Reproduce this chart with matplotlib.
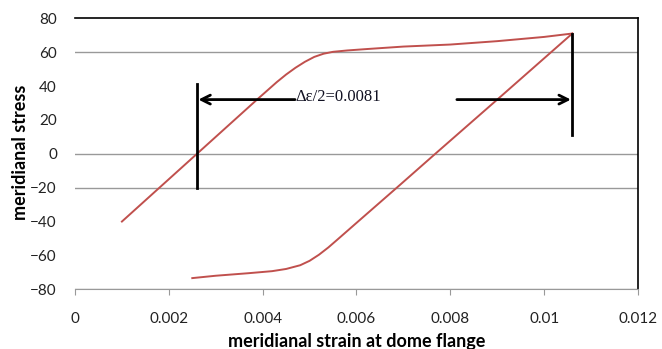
import matplotlib
matplotlib.use('Agg')
import matplotlib.pyplot as plt

# loading branch (from lower-left up to the peak)
load_strain = [0.0010, 0.0018, 0.0026, 0.0034, 0.0039, 0.0043, 0.0045, 0.0047,
               0.0049, 0.0051, 0.0053, 0.0055, 0.0058, 0.0062, 0.0070, 0.0080,
               0.0090, 0.0100, 0.0106]
load_stress = [-40, -20, 0, 20, 32.5, 42.3, 46.8, 50.8, 54.3, 57.2, 59.1, 60.2,
               61.0, 61.8, 63.3, 64.5, 66.5, 69, 71]

# unloading branch (from the peak down to lower-left)
unload_strain = [0.0106, 0.0090, 0.00768, 0.00686, 0.0060, 0.0056, 0.0054, 0.0052,
                 0.0050, 0.0048, 0.0045, 0.0042, 0.0037, 0.0030, 0.0025]
unload_stress = [71, 32, 0, -20, -40.8, -50.5, -55.3, -59.6, -63.2, -65.8, -68,
                 -69.3, -70.5, -72, -73.4]

# annotation values
left_mark = 0.0026
right_mark = 0.0106
left_span = (41, -20)
right_span = (71, 11)
arrow_y = 32
left_arrow_tail = 0.00469
right_arrow_tail = 0.00814
label = 'Δε/2=0.0081'

grid_levels = [60, 0, -20, -80]
xticks = [0, 0.002, 0.004, 0.006, 0.008, 0.01, 0.012]
xticklabels = ['0', '0.002', '0.004', '0.006', '0.008', '0.01', '0.012']
yticks = [-80, -60, -40, -20, 0, 20, 40, 60, 80]

plt.rcParams['font.family'] = ['Lato', 'DejaVu Sans']

fig = plt.figure(figsize=(6.62, 3.49), dpi=100)
ax = fig.add_axes([0.1133, 0.1711, 0.8504, 0.7765])

for lvl in grid_levels:
    ax.axhline(lvl, color='#999999', lw=1.0, zorder=1)

ax.plot(load_strain, load_stress, color='#C0504D', lw=1.4, zorder=3)
ax.plot(unload_strain, unload_stress, color='#C0504D', lw=1.4, zorder=3)

ax.plot([left_mark, left_mark], left_span, color='black', lw=2, zorder=4)
ax.plot([right_mark, right_mark], right_span, color='black', lw=2, zorder=4)
ax.annotate('', xy=(left_mark, arrow_y), xytext=(left_arrow_tail, arrow_y),
            arrowprops=dict(arrowstyle='->', lw=2, color='black', mutation_scale=16,
                            shrinkA=0, shrinkB=1))
ax.annotate('', xy=(right_mark, arrow_y), xytext=(right_arrow_tail, arrow_y),
            arrowprops=dict(arrowstyle='->', lw=2, color='black', mutation_scale=16,
                            shrinkA=0, shrinkB=1))
ax.text(left_arrow_tail, arrow_y + 1.5, label, family='Liberation Serif', fontsize=12,
        va='center', ha='left', color='#111122')

ax.set_xlim(0, 0.012)
ax.set_ylim(-80, 80)
ax.set_xticks(xticks)
ax.set_xticklabels(xticklabels)
ax.set_yticks(yticks)
ax.tick_params(axis='y', length=0, pad=13, labelsize=11, labelcolor='#222222')
ax.tick_params(axis='x', length=4, color='#999999', pad=12, labelsize=11, labelcolor='#222222')

ax.spines['left'].set_visible(False)
ax.spines['bottom'].set_color('#999999')
ax.spines['top'].set_color('black')
ax.spines['right'].set_color('black')
ax.spines['top'].set_linewidth(1.2)
ax.spines['right'].set_linewidth(1.2)

fig.text(0.539, 0.021, 'meridianal strain at dome flange', ha='center', va='center',
         fontsize=13, fontweight='bold')
fig.text(0.031, 0.563, 'meridianal stress', ha='center', va='center', rotation=90,
         fontsize=13, fontweight='bold')

fig.savefig('out.png', dpi=100)
